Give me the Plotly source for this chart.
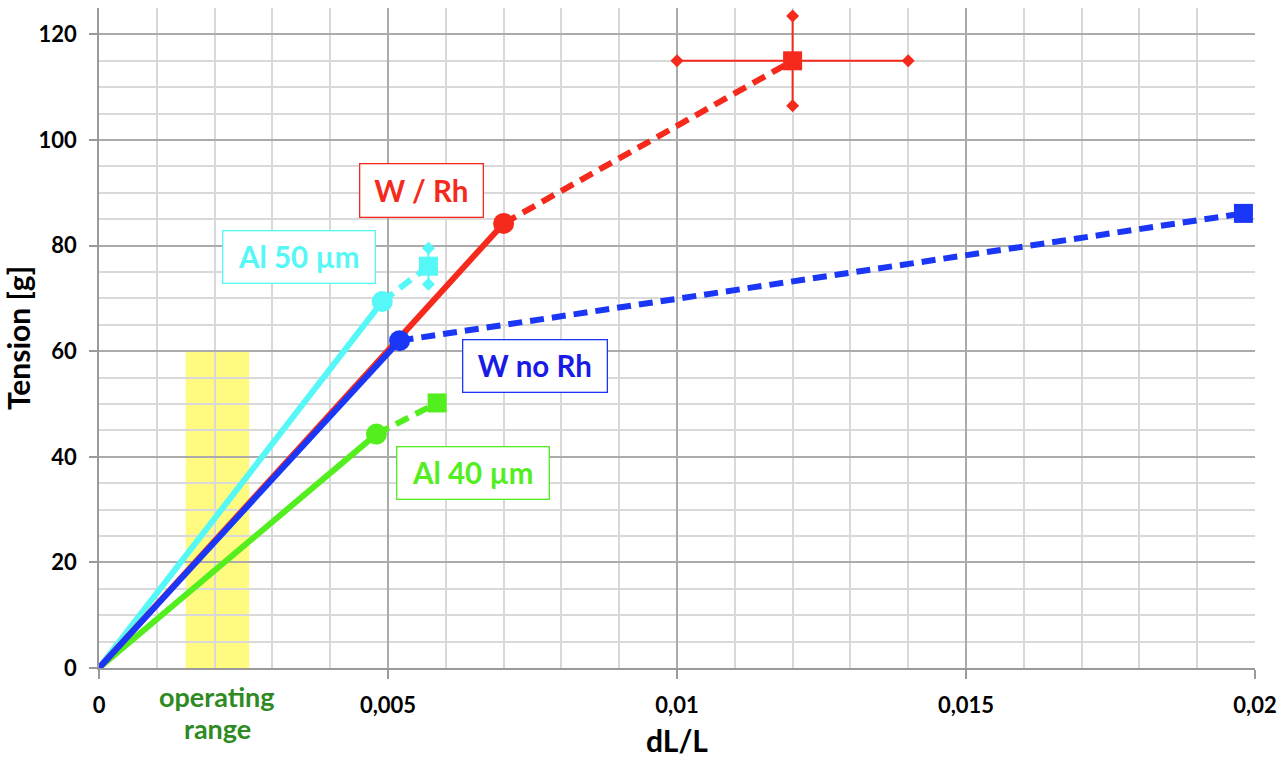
import plotly.graph_objects as go

# ---- data ----
wrh_x = [0, 0.007, 0.012]
wrh_y = [0, 84.2, 115]
wrh_err_x = 0.002
wrh_err_y = 8.5

wno_x = [0, 0.0052, 0.0198]
wno_y = [0, 62, 86.1]

al50_x = [0, 0.0049, 0.0057]
al50_y = [0, 69.4, 76.1]
al50_err_y = 3.4

al40_x = [0, 0.0048, 0.00585]
al40_y = [0, 44.3, 50.2]

operating_range = [0.0015, 0.0026]
operating_top = 60

x_ticks = [0, 0.005, 0.01, 0.015, 0.02]
x_tick_text = ["0", "0,005", "0,01", "0,015", "0,02"]
y_ticks = [0, 20, 40, 60, 80, 100, 120]

RED = "#F52A1C"
BLUE = "#1A36F7"
CYAN = "#55F7F7"
GREEN = "#52EE1E"
FONT = "Lato"

fig = go.Figure()

def series(xs, ys, color, err_x=None, err_y=None):
    fig.add_trace(go.Scatter(x=xs[:2], y=ys[:2], mode="lines",
                             line=dict(color=color, width=6), showlegend=False,
                             hoverinfo="skip"))
    fig.add_trace(go.Scatter(x=xs[1:], y=ys[1:], mode="lines",
                             line=dict(color=color, width=6, dash="14px,8px"),
                             showlegend=False, hoverinfo="skip"))
    if err_x is not None:
        fig.add_trace(go.Scatter(x=[xs[2] - err_x, xs[2] + err_x], y=[ys[2], ys[2]],
                                 mode="lines+markers",
                                 line=dict(color=color, width=2),
                                 marker=dict(symbol="diamond", size=10, color=color),
                                 showlegend=False, hoverinfo="skip"))
    if err_y is not None:
        fig.add_trace(go.Scatter(x=[xs[2], xs[2]], y=[ys[2] - err_y, ys[2] + err_y],
                                 mode="lines+markers",
                                 line=dict(color=color, width=2),
                                 marker=dict(symbol="diamond", size=10, color=color),
                                 showlegend=False, hoverinfo="skip"))
    fig.add_trace(go.Scatter(x=[xs[1]], y=[ys[1]], mode="markers",
                             marker=dict(symbol="circle", size=21, color=color),
                             showlegend=False, hoverinfo="skip"))
    fig.add_trace(go.Scatter(x=[xs[2]], y=[ys[2]], mode="markers",
                             marker=dict(symbol="square", size=19, color=color),
                             showlegend=False, hoverinfo="skip"))

series(al40_x, al40_y, GREEN)
series(al50_x, al50_y, CYAN, err_y=al50_err_y)
series(wrh_x, wrh_y, RED, err_x=wrh_err_x, err_y=wrh_err_y)
series(wno_x, wno_y, BLUE)

fig.add_shape(type="rect", xref="x", yref="y",
              x0=operating_range[0], x1=operating_range[1], y0=0, y1=operating_top,
              fillcolor="#FFFA80", line=dict(width=0), layer="below")

def label(text, x, y, color, w, h, tcolor=None):
    fig.add_annotation(x=x, y=y, xref="x", yref="y", text="<b>%s</b>" % text,
                       showarrow=False, width=w, height=h,
                       font=dict(family=FONT, size=29.5, color=tcolor or color),
                       bgcolor="white", bordercolor=color, borderwidth=1.3,
                       borderpad=0)

label("W / Rh", 0.00558, 90.5, RED, 122, 52)
label("Al 50 µm", 0.00346, 77.9, CYAN, 151, 51)
label("W no Rh", 0.00754, 57.25, BLUE, 143, 51, "#1A1AE6")
label("Al 40 µm", 0.00647, 37.0, GREEN, 151, 51)

op_center = (operating_range[0] + operating_range[1]) / 2
for txt, shift in (("operating", -28), ("range", -60)):
    fig.add_annotation(x=op_center, y=0, xref="x", yref="paper", yshift=shift,
                       yanchor="middle", text="<b>%s</b>" % txt, showarrow=False,
                       font=dict(family=FONT, size=27, color="#2E8A22"))

fig.add_annotation(x=0.5, y=0, xref="paper", yref="paper", yshift=-72, yanchor="middle",
                   text="<b>dL/L</b>", showarrow=False,
                   font=dict(family=FONT, size=30, color="black"))

fig.update_layout(
    width=1280, height=759,
    margin=dict(l=99, r=25, t=8, b=91),
    plot_bgcolor="white", paper_bgcolor="white",
    font=dict(family=FONT, color="black"),
    xaxis=dict(range=[0, 0.02], tickvals=x_ticks, ticktext=x_tick_text,
               automargin=False,
               showgrid=True, gridcolor="#ABABAB", gridwidth=1.5,
               minor=dict(dtick=0.001, showgrid=True, gridcolor="#D9D9D9", gridwidth=1.5),
               showline=True, linecolor="#9A9A9A", linewidth=1.5,
               ticks="outside", ticklen=9, tickcolor="#9A9A9A", tickwidth=1.5,
               ticklabelstandoff=8,
               tickfont=dict(family=FONT, size=22, color="black", weight="bold"),
               zeroline=False),
    yaxis=dict(range=[0, 125], tickvals=y_ticks,
               automargin=False,
               showgrid=True, gridcolor="#ABABAB", gridwidth=1.5,
               minor=dict(dtick=5, showgrid=True, gridcolor="#D9D9D9", gridwidth=1.5),
               showline=True, linecolor="#9A9A9A", linewidth=1.5,
               ticks="outside", ticklen=8, tickcolor="#9A9A9A", tickwidth=1.5,
               ticklabelstandoff=8,
               tickfont=dict(family=FONT, size=22, color="black", weight="bold"),
               title=dict(text="<b>Tension [g]</b>", standoff=20,
                          font=dict(family=FONT, size=30, color="black")),
               zeroline=False),
)

fig.write_html("out.html")
